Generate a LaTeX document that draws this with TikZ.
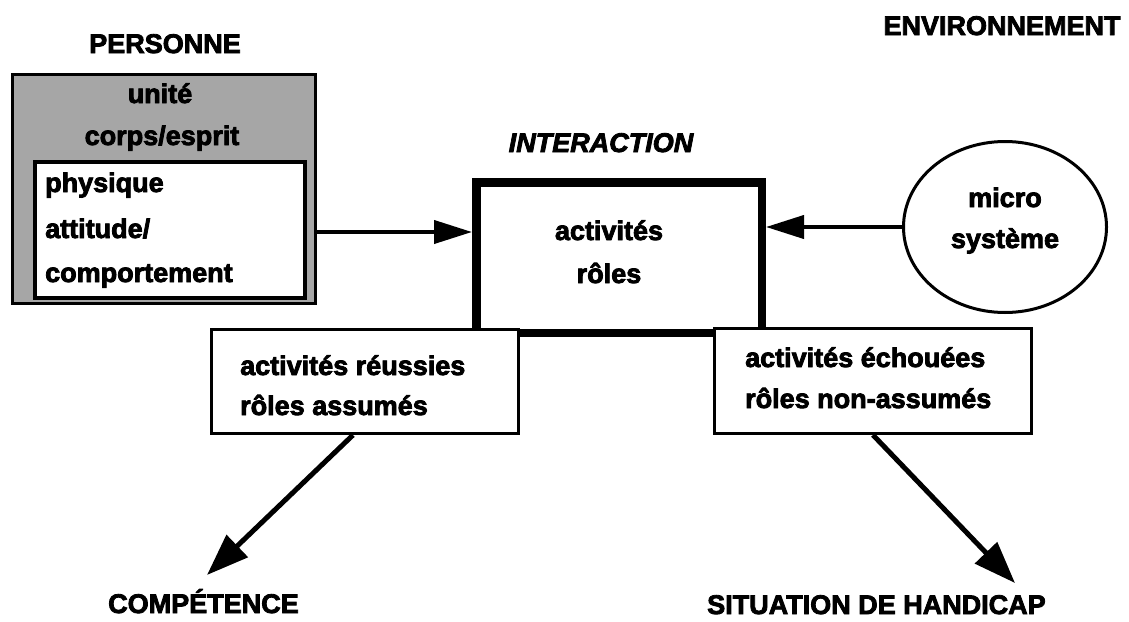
\documentclass[tikz,border=0pt]{standalone}
\usepackage{fontspec}
\setmainfont{Liberation Sans}
\newfontfamily\heavy{Liberation Sans Bold}[FakeBold=3]
\newfontfamily\heavyit{Liberation Sans Bold Italic}[FakeBold=3]
\usetikzlibrary{arrows.meta,shapes.geometric}
\tikzset{
  txt/.style={inner sep=0pt, font=\heavy\fontsize{27}{32}\selectfont},
  ltxt/.style={txt, anchor=base west},
  ctxt/.style={txt, anchor=base},
  thinbox/.style={draw, line width=3pt, fill=white, inner sep=0pt},
  hbox/.style={draw, line width=8.5pt, fill=white, inner sep=0pt},
  harr/.style={line width=4pt, -{Triangle[length=38pt,width=23pt]}},
  darr/.style={line width=5pt, -{Triangle[length=42pt,width=30pt]}}
}
\begin{document}
\begin{tikzpicture}[x=1pt,y=-1pt]
\useasboundingbox (0,0) rectangle (1129,621);
% titles
\node[ctxt] (personne) at (165,53) {PERSONNE};
\node[ctxt] (envt) at (1002,35) {ENVIRONNEMENT};
\node[txt, anchor=base, font=\heavyit\fontsize{27}{32}\selectfont] (interaction) at (601,152) {INTERACTION};
% personne box
\node[draw, line width=3pt, fill=black!35, minimum width=303pt, minimum height=229pt, inner sep=0pt] (po) at (164,189) {};
\node[ctxt] (unite) at (160,103) {unité};
\node[ctxt] (corps) at (162,145) {corps/esprit};
\node[draw, line width=4pt, fill=white, minimum width=270pt, minimum height=136pt, inner sep=0pt] (pi) at (170,230) {};
\node[ltxt] (phys) at (45,192) {physique};
\node[ltxt] (att) at (45,238) {attitude/};
\node[ltxt] (comp) at (45,282) {comportement};
% central box
\node[hbox, minimum width=285.5pt, minimum height=150.5pt] (central) at (619,257.5) {};
\node[ctxt] (act) at (609,240) {activités};
\node[ctxt] (roles) at (609,283) {rôles};
% environment ellipse
\node[draw, ellipse, line width=3pt, minimum width=203pt, minimum height=171pt, inner sep=0pt] (env) at (1005,227) {};
\node[ctxt] (micro) at (1005,207) {micro};
\node[ctxt] (sys) at (1005,248) {système};
% bottom boxes
\node[thinbox, minimum width=307pt, minimum height=104pt] (lb) at (365,381.5) {};
\node[ltxt] (ar) at (240,375) {activités réussies};
\node[ltxt] (ra) at (240,415) {rôles assumés};
\node[thinbox, minimum width=317pt, minimum height=105pt] (rb) at (873,381) {};
\node[ltxt] (ae) at (745,367) {activités échouées};
\node[ltxt] (rn) at (745,408) {rôles non-assumés};
% outcomes
\node[ltxt] (competence) at (108,613) {COMPÉTENCE};
\node[ltxt] (handicap) at (707,614) {SITUATION DE HANDICAP};
\coordinate (tipL) at (207,575);
\coordinate (tipR) at (1015,583);
% arrows
\draw[harr] (po.east |- 0,232) -- (central.west |- 0,232);
\draw[harr] (env.west) -- (central.east |- env.west);
\draw[darr] ([xshift=-12pt]lb.south) -- (tipL);
\draw[darr] (rb.south) -- (tipR);
\end{tikzpicture}
\end{document}
